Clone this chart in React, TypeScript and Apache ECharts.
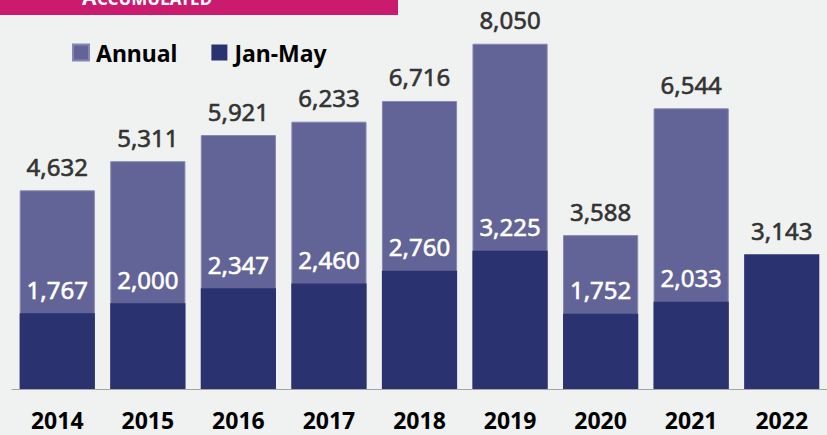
import React, { useEffect, useRef } from "react";
import * as echarts from "echarts";

const years = ["2014", "2015", "2016", "2017", "2018", "2019", "2020", "2021", "2022"];
const annual: (number | null)[] = [4632, 5311, 5921, 6233, 6716, 8050, 3588, 6544, null];
const janMay: number[] = [1767, 2000, 2347, 2460, 2760, 3225, 1752, 2033, 3143];

const fmt = (v: number) => v.toLocaleString("en-US");

export default function App() {
  const ref = useRef<HTMLDivElement>(null);
  useEffect(() => {
    if (!ref.current) return;
    const chart = echarts.init(ref.current, undefined, { renderer: "svg" });
    const numFont = '"Noto Sans", sans-serif';
    chart.setOption({
      animation: false,
      backgroundColor: "#f0f2f1",
      grid: { left: 12, width: 822, top: 3, bottom: 46 },
      legend: {
        left: 67,
        top: 36,
        icon: "rect",
        itemWidth: 16,
        itemHeight: 16,
        itemGap: 34,
        textStyle: {
          fontFamily: numFont,
          fontWeight: "bold",
          fontSize: 23,
          color: "#000",
          padding: [0, 0, 0, 2],
        },
        data: ["Annual", "Jan-May"],
      },
      xAxis: {
        type: "category",
        data: years,
        axisLine: { lineStyle: { color: "#a5a5a5", width: 1 } },
        axisTick: { length: 8, lineStyle: { color: "#a5a5a5" } },
        axisLabel: {
          margin: 19,
          fontFamily: numFont,
          fontWeight: "bold",
          fontSize: 23,
          lineHeight: 23,
          color: "#000",
        },
      },
      yAxis: { type: "value", show: false, min: 0, max: 9000 },
      series: [
        {
          name: "Annual",
          type: "bar",
          data: annual,
          barWidth: "83%",
          barGap: "-100%",
          itemStyle: { color: "#626497", borderColor: "#8587b0", borderWidth: 1 },
          label: {
            show: true,
            position: "top",
            distance: 12,
            fontFamily: numFont,
            fontSize: 24,
            color: "#333",
            textBorderColor: "#333",
            textBorderWidth: 0.6,
            formatter: (p: any) => fmt(p.value),
          },
          z: 1,
        },
        {
          name: "Jan-May",
          type: "bar",
          data: janMay.map((v, i) =>
            annual[i] == null
              ? { value: v, label: { color: "#333", textBorderColor: "#333" } }
              : v
          ),
          barWidth: "83%",
          itemStyle: { color: "#2b3270" },
          label: {
            show: true,
            position: "top",
            distance: 12,
            fontFamily: numFont,
            fontSize: 24,
            color: "#fff",
            textBorderColor: "#fff",
            textBorderWidth: 0.6,
            formatter: (p: any) => fmt(p.value),
          },
          z: 2,
        },
      ],
      graphic: [
        { type: "rect", shape: { x: 0, y: 0, width: 398, height: 15 }, style: { fill: "#cb1b6f" } },
        {
          type: "text",
          x: 82,
          y: 7,
          style: {
            text: "A",
            fill: "#fff",
            font: 'bold 21px "Noto Sans", sans-serif',
            textVerticalAlign: "bottom",
          },
        },
        {
          type: "text",
          x: 97,
          y: 7,
          style: {
            text: "CCUMULATED",
            fill: "#fff",
            font: 'bold 17px "Noto Sans", sans-serif',
            textVerticalAlign: "bottom",
          },
        },
      ],
    });
    return () => chart.dispose();
  }, []);
  return (
    <div
      ref={ref}
      style={{ position: "fixed", left: 0, top: 0, width: 827, height: 435 }}
    />
  );
}
